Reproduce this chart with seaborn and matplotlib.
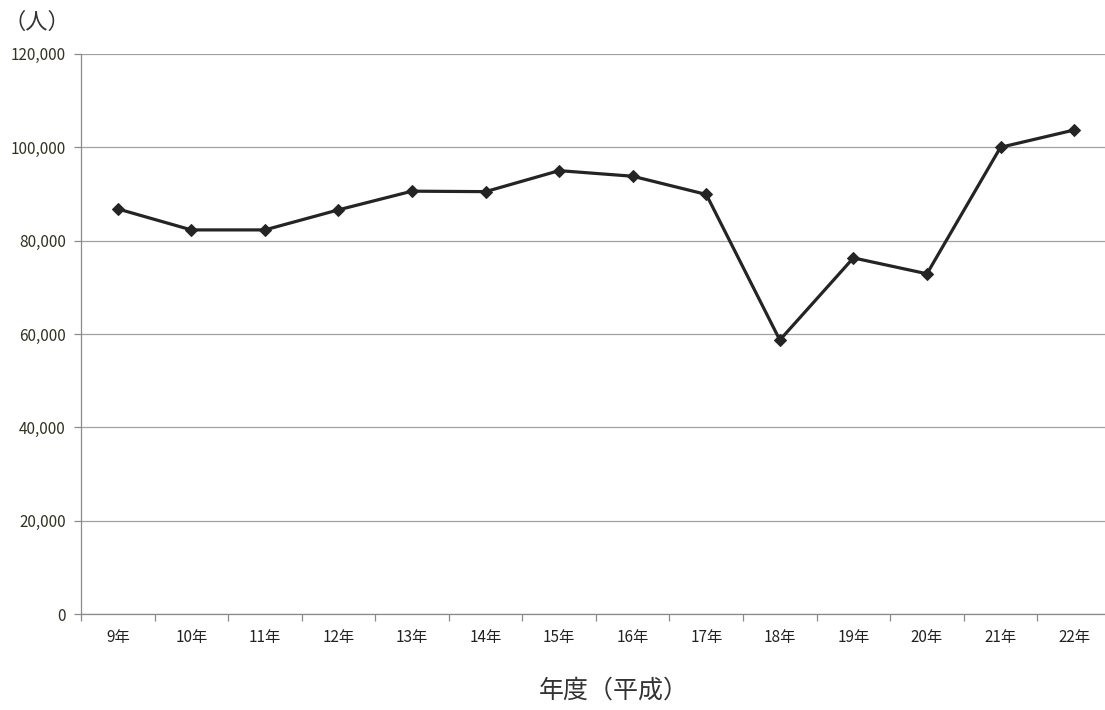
import matplotlib
matplotlib.use("Agg")
import matplotlib.pyplot as plt
from matplotlib.ticker import FixedLocator, FuncFormatter
import numpy as np
import pandas as pd
import seaborn as sns

# 年度（平成）ごとの人数
years = ["9年", "10年", "11年", "12年", "13年", "14年", "15年",
         "16年", "17年", "18年", "19年", "20年", "21年", "22年"]
people = [86800, 82300, 82300, 86600, 90600, 90500, 95000,
          93800, 89900, 58700, 76300, 72900, 100000, 103700]
y_ticks = [0, 20000, 40000, 60000, 80000, 100000, 120000]

sns.set_theme(style="white")
plt.rcParams["font.family"] = ["Noto Sans CJK JP", "DejaVu Sans"]

df = pd.DataFrame({"年度": years, "人数": people})

fig = plt.figure(figsize=(11.05, 7.10), dpi=100)
# the plotting area runs on past the right edge of the canvas
ax = fig.add_axes([0.0733, 0.1352, 0.932, 0.7888])

sns.lineplot(data=df, x="年度", y="人数", sort=False, ax=ax,
             color="#242424", linewidth=2.3, marker="D", markersize=6,
             markeredgecolor="#242424", markerfacecolor="#242424")

n = len(years)
ax.set_xlim(-0.5, n - 0.5)
ax.set_ylim(0, 120000)

ax.yaxis.set_major_locator(FixedLocator(y_ticks))
ax.yaxis.set_major_formatter(FuncFormatter(lambda v, p: f"{int(v):,}"))
ax.grid(axis="y", color="#a0a0a0", linewidth=0.9)
ax.grid(axis="x", visible=False)

# tick marks sit between categories
ax.xaxis.set_minor_locator(FixedLocator(np.arange(-0.5, n, 1.0)))
ax.tick_params(axis="x", which="major", length=0, pad=11, labelsize=11,
               labelcolor="#222222")
ax.tick_params(axis="x", which="minor", length=5, width=0.9,
               color="#8a8a8a", direction="out", bottom=True)
ax.tick_params(axis="y", which="major", length=5, width=0.9,
               color="#8a8a8a", direction="out", left=True, pad=6,
               labelsize=11, labelcolor="#333322")

for side in ("top", "right"):
    ax.spines[side].set_visible(False)
for side in ("left", "bottom"):
    ax.spines[side].set_color("#8a8a8a")
    ax.spines[side].set_linewidth(0.9)

ax.set_xlabel("年度（平成）", fontsize=18, color="#333333", va="center")
ax.xaxis.set_label_coords(0.517, -0.137)
ax.set_ylabel("")
fig.text(0.003, 0.969, "（人）", fontsize=16, color="#333333",
         ha="left", va="center")

fig.savefig("out.png", dpi=100, facecolor="white")
